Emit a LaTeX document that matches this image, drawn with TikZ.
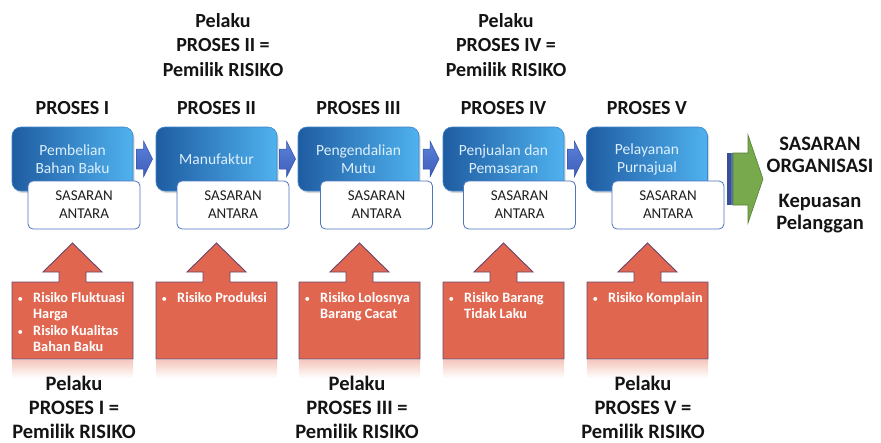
\documentclass[tikz,border=0pt]{standalone}
\usepackage{fontspec}
\setmainfont{Carlito}
\usetikzlibrary{shadows,calc}
\definecolor{procdark}{HTML}{1F5CA2}
\definecolor{proclight}{HTML}{4FB2EE}
\definecolor{procborder}{HTML}{3F85C8}
\definecolor{proctext}{HTML}{DCEFFC}
\definecolor{sasborder}{HTML}{4F74C0}
\definecolor{riskfill}{HTML}{E06650}
\definecolor{riskborder}{HTML}{67486E}
\definecolor{reflc}{HTML}{F4C8BE}
\definecolor{arrowL}{HTML}{5A82DA}
\definecolor{arrowD}{HTML}{3F5DBA}
\definecolor{arrowB}{HTML}{3653A8}
\definecolor{grn}{HTML}{78A94C}
\definecolor{grnB}{HTML}{557F35}
\definecolor{stripeD}{HTML}{3B4F95}
\definecolor{stripeL}{HTML}{5470BD}
\tikzset{
  procbox/.style={rounded corners=9pt, minimum width=121pt, minimum height=64pt,
    draw=procborder, line width=0.6pt, left color=procdark, right color=proclight,
    text=proctext, align=center, font=\fontsize{15.5}{18}\selectfont, inner sep=0pt,
    drop shadow={opacity=0.3, shadow xshift=1.5pt, shadow yshift=-2pt}},
  sasbox/.style={rounded corners=5pt, minimum width=112pt, minimum height=48pt,
    draw=sasborder, line width=0.8pt, fill=white, align=center,
    font=\fontsize{15}{18}\selectfont, text=black!88, inner sep=0pt},
  barrow/.style={draw=arrowB, line width=0.5pt, top color=arrowL, bottom color=arrowD},
  riskshape/.style={draw=riskborder, line width=0.9pt, fill=riskfill, line join=miter},
  risktxt/.style={font=\fontsize{14.3}{16.3}\bfseries\selectfont, text=white, anchor=base west, inner sep=0pt},
  riskbul/.style={font=\fontsize{11}{13}\selectfont, text=white, anchor=base west, inner sep=0pt},
  lbl/.style={font=\fontsize{20}{24}\bfseries\selectfont, anchor=base, inner sep=0pt, text=black!92},
  blbl/.style={font=\fontsize{20.5}{24}\bfseries\selectfont, anchor=base, inner sep=0pt, text=black!92},
}
\newcommand{\riskarrow}[1]{%
  \shade[top color=reflc, bottom color=white] (#1,360) rectangle ({#1+121},378);
  \draw[riskshape] (#1,282) -- ({#1+47},282) -- ({#1+47},272) -- ({#1+31},272) -- ({#1+60.5},243)
    -- ({#1+90},272) -- ({#1+74},272) -- ({#1+74},282) -- ({#1+121},282) -- ({#1+121},359) -- (#1,359) -- cycle;
}
\begin{document}
\begin{tikzpicture}[x=1pt,y=-1pt]
\useasboundingbox[fill=white] (0,0) rectangle (881,442);

% top labels
\node[lbl] (tA1) at (223,27) {Pelaku};
\node[lbl] (tA2) at (223,51.5) {PROSES II =};
\node[lbl] (tA3) at (223,76) {Pemilik RISIKO};
\node[lbl] (tB1) at (506,27) {Pelaku};
\node[lbl] (tB2) at (506,51.5) {PROSES IV =};
\node[lbl] (tB3) at (506,76) {Pemilik RISIKO};

% process titles
\node[lbl] (h1) at (72.5,114) {PROSES I};
\node[lbl] (h2) at (216.5,114) {PROSES II};
\node[lbl] (h3) at (358.5,114) {PROSES III};
\node[lbl] (h4) at (503.5,114) {PROSES IV};
\node[lbl] (h5) at (647,114) {PROSES V};

% process boxes
\node[procbox] (p1) at (72.5,159) {Pembelian\\Bahan Baku};
\node[procbox] (p2) at (216.5,159) {Manufaktur};
\node[procbox] (p3) at (358.5,159) {Pengendalian\\Mutu};
\node[procbox] (p4) at (503.5,159) {Penjualan dan\\Pemasaran};
\node[procbox] (p5) at (647,159) {Pelayanan\\Purnajual};

% intermediate targets
\node[sasbox] (s1) at (84,205) {SASARAN\\ANTARA};
\node[sasbox] (s2) at (233,205) {SASARAN\\ANTARA};
\node[sasbox] (s3) at (376.5,205) {SASARAN\\ANTARA};
\node[sasbox] (s4) at (519.5,205) {SASARAN\\ANTARA};
\node[sasbox] (s5) at (668,205) {SASARAN\\ANTARA};

% small block arrows
\foreach \a/\b in {p1/p2,p2/p3,p3/p4,p4/p5}{
  \draw[barrow] ($(\a.east)!0.5!(\b.west)+(-8,-10)$) -- ++(7,0) -- ++(0,-8) -- ++(9,18)
    -- ++(-9,18) -- ++(0,-8) -- ++(-7,0) -- cycle;
}

% big green arrow
\coordinate (g) at (727,179);
\fill[stripeD] ($(g)+(0,-26)$) rectangle ($(g)+(4,26)$);
\fill[stripeL] ($(g)+(4,-26)$) rectangle ($(g)+(6,26)$);
\draw[draw=grnB, fill=grn, line width=0.6pt] ($(g)+(6,-26)$) -- ++(15,0) -- ++(0,-18) -- ++(15,44)
  -- ++(-15,44) -- ++(0,-18) -- ++(-15,0) -- cycle;

\node[blbl] (o1) at (820,150) {SASARAN};
\node[blbl] (o2) at (820,172.5) {ORGANISASI};
\node[blbl] (o3) at (820,207) {Kepuasan};
\node[blbl] (o4) at (820,229.5) {Pelanggan};

% risk arrows
\riskarrow{12}
\riskarrow{156}
\riskarrow{299}
\riskarrow{443}
\riskarrow{587}

% risk texts
\node[riskbul] (b1a) at (17.5,302.5) {•};
\node[risktxt] (r1a) at (33,302.5) {Risiko Fluktuasi};
\node[risktxt] (r1b) at (33,318.8) {Harga};
\node[riskbul] (b1b) at (17.5,335.1) {•};
\node[risktxt] (r1c) at (33,335.1) {Risiko Kualitas};
\node[risktxt] (r1d) at (33,351.4) {Bahan Baku};

\node[riskbul] (b2a) at (161.5,302.5) {•};
\node[risktxt] (r2a) at (177,302.5) {Risiko Produksi};

\node[riskbul] (b3a) at (304.5,302.5) {•};
\node[risktxt] (r3a) at (320,302.5) {Risiko Lolosnya};
\node[risktxt] (r3b) at (320,318.8) {Barang Cacat};

\node[riskbul] (b4a) at (448.5,302.5) {•};
\node[risktxt] (r4a) at (464,302.5) {Risiko Barang};
\node[risktxt] (r4b) at (464,318.8) {Tidak Laku};

\node[riskbul] (b5a) at (592.5,302.5) {•};
\node[risktxt] (r5a) at (608,302.5) {Risiko Komplain};

% bottom labels
\node[blbl] (u11) at (74,390) {Pelaku};
\node[blbl] (u12) at (74,414) {PROSES I =};
\node[blbl] (u13) at (74,438) {Pemilik RISIKO};
\node[blbl] (u31) at (357,390) {Pelaku};
\node[blbl] (u32) at (357,414) {PROSES III =};
\node[blbl] (u33) at (357,438) {Pemilik RISIKO};
\node[blbl] (u51) at (643,390) {Pelaku};
\node[blbl] (u52) at (643,414) {PROSES V =};
\node[blbl] (u53) at (643,438) {Pemilik RISIKO};
\end{tikzpicture}
\end{document}
